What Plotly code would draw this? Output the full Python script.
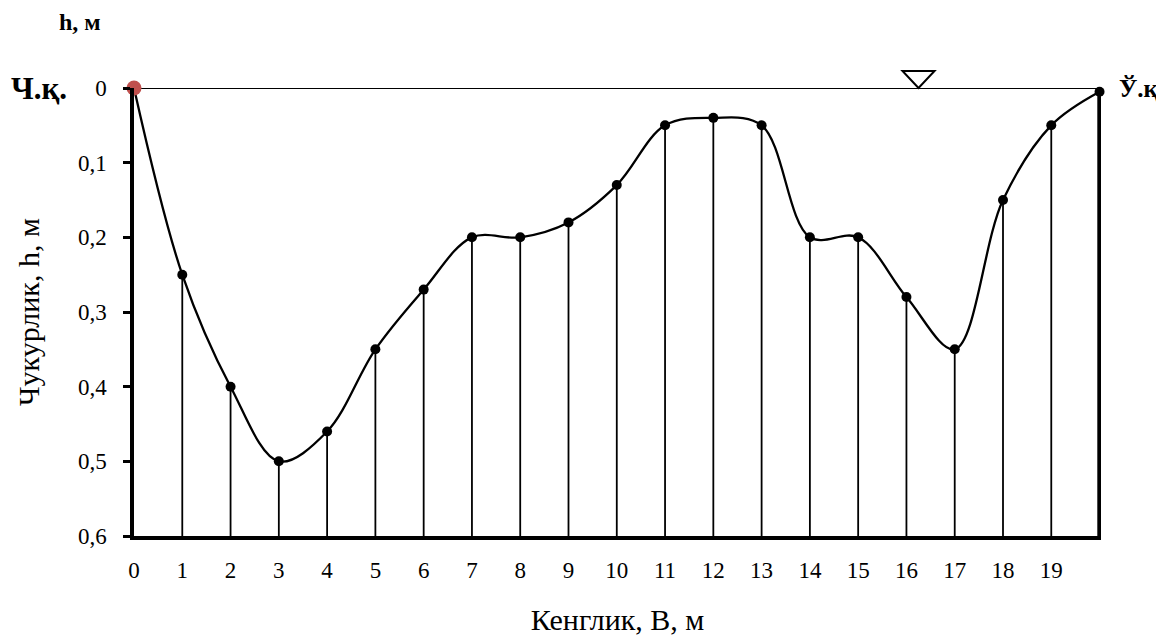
import plotly.graph_objects as go

widths = list(range(0, 21))
depths = [0.0, 0.25, 0.40, 0.50, 0.46, 0.35, 0.27, 0.20, 0.20, 0.18, 0.13,
          0.05, 0.04, 0.05, 0.20, 0.20, 0.28, 0.35, 0.15, 0.05, 0.005]
x_tick_vals = list(range(0, 20))
x_tick_text = [str(v) for v in x_tick_vals]
y_tick_vals = [0, 0.1, 0.2, 0.3, 0.4, 0.5, 0.6]
y_tick_text = ["0", "0,1", "0,2", "0,3", "0,4", "0,5", "0,6"]
bottom = 0.6
water_level_x = 16.25

FONT = "Liberation Serif, Times New Roman, serif"

fig = go.Figure()

# vertical depth lines
vx, vy = [], []
for x, d in zip(widths[1:-1], depths[1:-1]):
    vx += [x, x, None]
    vy += [d, bottom, None]
fig.add_trace(go.Scatter(x=vx, y=vy, mode="lines",
                         line=dict(color="black", width=1.8),
                         hoverinfo="skip", showlegend=False))

# thick right bank line
fig.add_trace(go.Scatter(x=[widths[-1], widths[-1]], y=[depths[-1], bottom], mode="lines",
                         line=dict(color="black", width=4.5),
                         showlegend=False, cliponaxis=False))

# water surface line
fig.add_trace(go.Scatter(x=[widths[0], widths[-1]], y=[0, 0], mode="lines",
                         line=dict(color="black", width=2),
                         showlegend=False, cliponaxis=False))

# profile curve
fig.add_trace(go.Scatter(x=widths, y=depths, mode="lines",
                         line=dict(color="black", width=2.3, shape="spline", smoothing=1.0),
                         showlegend=False, cliponaxis=False))

# markers
fig.add_trace(go.Scatter(x=widths[1:], y=depths[1:], mode="markers",
                         marker=dict(color="black", size=10),
                         showlegend=False, cliponaxis=False))
fig.add_trace(go.Scatter(x=[widths[0]], y=[depths[0]], mode="markers",
                         marker=dict(color="#c0504d", size=15),
                         showlegend=False, cliponaxis=False))

# water level symbol (pixel-sized triangle anchored on the water line)
fig.add_shape(type="path", xref="x", yref="paper",
              xsizemode="pixel", ysizemode="pixel",
              xanchor=water_level_x, yanchor=1,
              path="M -16 17 L 16 17 L 0 0 Z",
              line=dict(color="black", width=2), fillcolor="rgba(0,0,0,0)")

fig.add_annotation(text="<b>h, м</b>", xref="paper", yref="paper",
                   x=-0.0558, y=1.147, showarrow=False, xanchor="center", yanchor="middle",
                   font=dict(family=FONT, size=24, color="black"))
fig.add_annotation(text="<b>Ч.қ.</b>", xref="paper", yref="y",
                   x=-0.0985, y=0, showarrow=False, xanchor="center", yanchor="middle",
                   font=dict(family=FONT, size=31, color="black"))
fig.add_annotation(text="<b>Ў.қ</b>", xref="paper", yref="y",
                   x=1.017, y=0.0, showarrow=False, xanchor="left", yanchor="middle",
                   font=dict(family=FONT, size=25, color="black"))

fig.update_layout(
    width=1156, height=628,
    margin=dict(l=126, r=63, t=80, b=100),
    paper_bgcolor="white", plot_bgcolor="white",
    font=dict(family=FONT, size=23, color="black"),
    showlegend=False,
)
fig.update_xaxes(range=[0, 20.03], tickmode="array", tickvals=x_tick_vals, ticktext=x_tick_text,
                 showgrid=False, zeroline=False, showline=True, linecolor="black", linewidth=3.5,
                 ticks="", ticklabelstandoff=11, automargin=False,
                 title=dict(text="Кенглик, В, м", font=dict(family=FONT, size=30), standoff=30))
fig.update_yaxes(range=[0.6, 0], tickmode="array", tickvals=y_tick_vals, ticktext=y_tick_text,
                 showgrid=False, zeroline=False, showline=True, linecolor="black", linewidth=3.5,
                 ticks="outside", ticklen=7, tickwidth=2.5, tickcolor="black",
                 ticklabelstandoff=12, automargin=False,
                 title=dict(text="Чукурлик, h, м", font=dict(family=FONT, size=30), standoff=30))

fig.write_html("out.html")
